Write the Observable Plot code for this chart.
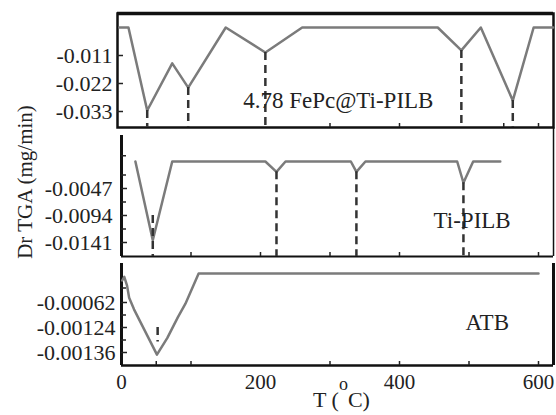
<!DOCTYPE html>
<html><head><meta charset="utf-8">
<script src="https://cdn.jsdelivr.net/npm/d3@7"></script>
<script src="https://cdn.jsdelivr.net/npm/@observablehq/plot@0.6"></script>
<style>
html,body{margin:0;padding:0;background:#fff;}
#chart{position:relative;width:556px;height:415px;overflow:hidden;font-family:"Liberation Serif","Times New Roman",serif;color:#222;}
.ytitle{position:absolute;left:25px;top:182px;transform:translate(-50%,-50%) rotate(-90deg);font-size:21px;line-height:1;white-space:nowrap;}
.xtitle{position:absolute;left:313px;top:389px;font-size:22px;line-height:22px;white-space:nowrap;}
.xtitle .deg{position:relative;top:-0.95em;font-size:18px;}
</style></head><body><div id="chart"></div>
<script>
// ---- data ----
const fepcT = [-3, 10, 37, 73, 96, 150, 207, 260, 455, 489, 517, 563, 593, 621];
const fepcV = [0, 0, -0.0326, -0.0141, -0.0236, 0, -0.0098, 0, 0, -0.0090, 0, -0.0287, 0, 0];
const fepcDashT = [37, 96, 207, 489, 563];
const fepcDashV = [-0.0326, -0.0236, -0.0098, -0.0090, -0.0287];

const tipT = [20, 45, 73, 207, 223, 236, 330, 338, 351, 483, 492, 506, 545];
const tipV = [0, -0.0137, 0, 0, -0.0018, 0, 0, -0.0018, 0, 0, -0.0037, 0, 0];
const tipDashT = [45, 223, 338, 492];
const tipDashV = [-0.0094, -0.0018, -0.0018, -0.0037];

const atbT = [1, 4, 8, 11, 18, 51, 66, 81, 92, 111, 600];
const atbV = [-0.00015, -0.00007, -0.00026, -0.00052, -0.00079, -0.00137, -0.00129, -0.00099, -0.00065, 0, 0];
const atbDashT = [52];
const atbDashV1 = [-0.00124];
const atbDashV2 = [-0.00131];

const p1Ticks = [-0.011, -0.022, -0.033];
const p1Labels = ["-0.011", "-0.022", "-0.033"];
const p2Ticks = [-0.0047, -0.0094, -0.0141];
const p2Labels = ["-0.0047", "-0.0094", "-0.0141"];
const p2Minor = [0.001, -0.00235, -0.00705, -0.01175];
const p3Ticks = [-0.00062, -0.00124, -0.00136];
const p3Labels = ["-0.00062", "-0.00124", "-0.00136"];
const p3Minor = [-0.00031, -0.00093, -0.0013];
const xTicks = [0, 200, 400, 600];
const xLabels = ["0", "200", "400", "600"];
const xMinor1 = [300, 400, 550, 600];
const xMinor2 = [100, 200, 300, 400, 500, 600];
const xMinor3 = [50, 100, 300, 400, 500, 600];

const panelLabels = ["4.78 FePc@Ti-PILB", "Ti-PILB", "ATB"];
const labelT = [175, 449, 495];
const labelV = [-0.0287, -0.0103, -0.00112];

const yTitle = "Dr TGA (mg/min)";

// ---- helpers ----
const rows = (T, V) => T.map((t, i) => ({t, v: V[i]}));
const lineColor = "#7b7b7b", dashColor = "#333", inkColor = "#222";
const X = {domain: [0, 600], range: [121, 538]};
const xRightT = 621.6;
const TICK_FS = 22, LABEL_FS = 23;
const baseStyle = (top) => ({fontFamily: "Liberation Serif", fontSize: "21px", color: "#222", background: "transparent", overflow: "visible", position: "absolute", left: "0px", top: top + "px"});
// y tick labels as real text marks anchored on the frame's left edge
const yLabels = (pos, labels, gap) => Plot.text(pos.map((p, i) => ({p, s: labels[i]})), {y: "p", text: "s", frameAnchor: "left", textAnchor: "end", dx: -gap, fontSize: TICK_FS, fill: inkColor});
const inTicksY = (pos, size) => Plot.axisY(pos, {tickSize: -size, tickFormat: () => "", label: null, strokeWidth: 1.5});
const inTicksX = (pos) => Plot.axisX(pos, {tickSize: -4, tickFormat: () => "", label: null, strokeWidth: 1.5});

const chart = document.getElementById("chart");

// ---- panel 1 ----
{
  const yD = [-0.011, -0.033], yR = [55, 111];
  const s = d3.scaleLinear(yD, yR);
  const bottom = s.invert(127), top = s.invert(13);
  const p = Plot.plot({
    width: 556, height: 130, marginTop: 13, marginBottom: 3, marginLeft: 117, marginRight: 3,
    style: baseStyle(0),
    x: X, y: {domain: yD, range: yR},
    marks: [
      Plot.frame({stroke: "#111", strokeWidth: 2.5}),
      Plot.ruleY([top], {stroke: "#111", strokeWidth: 3.5}),
      inTicksY(p1Ticks, 6),
      yLabels(p1Ticks, p1Labels, 5),
      inTicksX(xMinor1),
      Plot.line(rows(fepcT, fepcV), {x: "t", y: "v", stroke: lineColor, strokeWidth: 2.5}),
      Plot.ruleX(rows(fepcDashT, fepcDashV), {x: "t", y1: "v", y2: () => bottom, stroke: dashColor, strokeWidth: 2.5, strokeDasharray: "8,5"}),
      Plot.text([0], {x: () => labelT[0], y: () => labelV[0], text: () => panelLabels[0], textAnchor: "start", fontSize: LABEL_FS, fill: inkColor})
    ]
  });
  chart.appendChild(p);
}

// ---- panel 2 ----
{
  const yD = [-0.0047, -0.0141], yR = [61, 115];
  const s = d3.scaleLinear(yD, yR);
  const bottom = s.invert(129);
  const p = Plot.plot({
    width: 556, height: 133, marginTop: 8, marginBottom: 4, marginLeft: 121, marginRight: 3,
    style: baseStyle(127),
    x: X, y: {domain: yD, range: yR},
    marks: [
      Plot.ruleX([0], {stroke: "#111", strokeWidth: 3}),
      Plot.ruleX([xRightT], {stroke: "#111", strokeWidth: 1.5, insetTop: -8}),
      Plot.ruleY([bottom], {stroke: "#111", strokeWidth: 2}),
      inTicksY(p2Ticks, 6),
      inTicksY(p2Minor, 5),
      yLabels(p2Ticks, p2Labels, 9),
      inTicksX(xMinor2),
      Plot.line(rows(tipT, tipV), {x: "t", y: "v", stroke: lineColor, strokeWidth: 2.5}),
      Plot.ruleX(rows(tipDashT, tipDashV), {x: "t", y1: "v", y2: () => bottom, stroke: dashColor, strokeWidth: 2.5, strokeDasharray: "8,5"}),
      Plot.text([0], {x: () => labelT[1], y: () => labelV[1], text: () => panelLabels[1], textAnchor: "start", fontSize: LABEL_FS, fill: inkColor})
    ]
  });
  chart.appendChild(p);
}

// ---- panel 3 (the original axis is piecewise: equal spacing for unequal steps) ----
{
  const yD = [0, -0.00062, -0.00124, -0.00136], yR = [13, 42, 67, 92];
  const warp = d3.scaleLinear(yD, yR); // piecewise value -> axis position
  const bottomPos = 105;
  const wrows = (T, V) => T.map((t, i) => ({t, p: warp(V[i])}));
  const p = Plot.plot({
    width: 556, height: 155, marginTop: 3, marginBottom: 50, marginLeft: 121, marginRight: 3,
    style: baseStyle(260),
    x: X, y: {domain: [yR[0], yR[yR.length - 1]], range: [yR[0], yR[yR.length - 1]]},
    marks: [
      Plot.ruleX([0], {stroke: "#111", strokeWidth: 3}),
      Plot.ruleX([xRightT], {stroke: "#111", strokeWidth: 3}),
      Plot.ruleY([bottomPos], {stroke: "#111", strokeWidth: 2.5}),
      inTicksY(p3Ticks.map(warp), 6),
      inTicksY(p3Minor.map(warp), 5),
      yLabels(p3Ticks.map(warp), p3Labels, 6),
      Plot.text(xTicks.map((t, i) => ({t, s: xLabels[i]})), {x: "t", text: "s", frameAnchor: "bottom", lineAnchor: "top", dy: 9, fontSize: 21, fill: inkColor}),
      inTicksX(xMinor3),
      Plot.line(wrows(atbT, atbV), {x: "t", y: "p", stroke: lineColor, strokeWidth: 2.5}),
      Plot.ruleX(atbDashT.map((t, i) => ({t, a: warp(atbDashV1[i]), b: warp(atbDashV2[i])})), {x: "t", y1: "a", y2: "b", stroke: dashColor, strokeWidth: 2.5, strokeDasharray: "8,5"}),
      Plot.text([0], {x: () => labelT[2], y: () => warp(labelV[2]), text: () => panelLabels[2], textAnchor: "start", fontSize: LABEL_FS, fill: inkColor})
    ]
  });
  chart.appendChild(p);
}

// ---- titles ----
const yt = document.createElement("div");
yt.className = "ytitle"; yt.textContent = yTitle;
chart.appendChild(yt);
const xt = document.createElement("div");
xt.className = "xtitle";
xt.innerHTML = 'T (<span class="deg">o</span>C)';
chart.appendChild(xt);
</script>
</body></html>
